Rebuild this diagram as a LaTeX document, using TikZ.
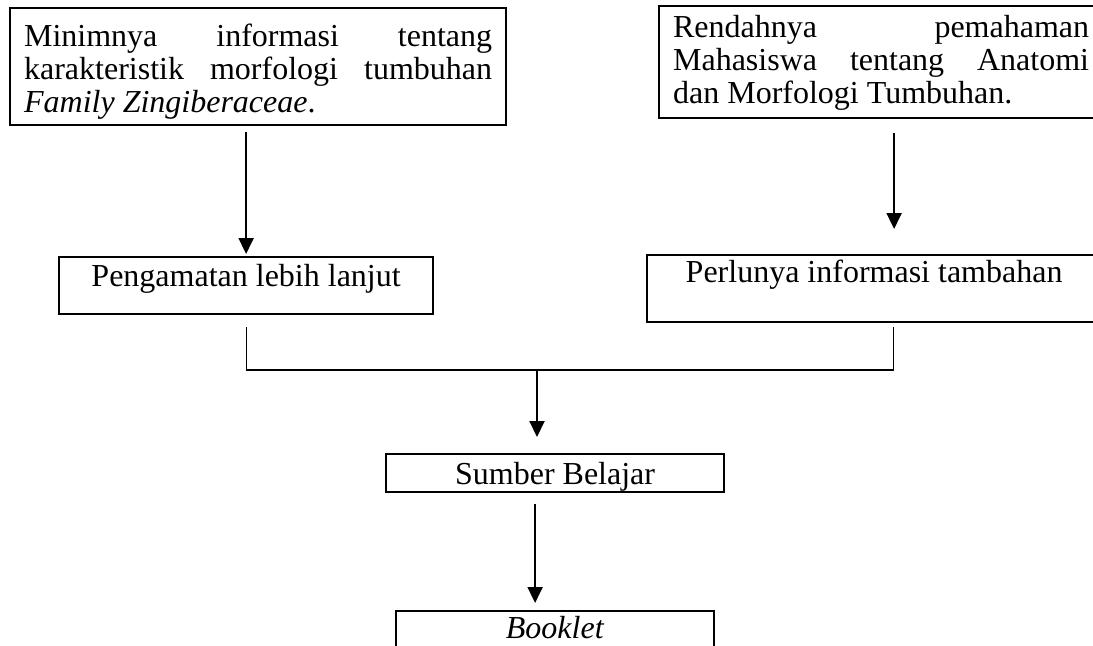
\documentclass[tikz,border=0pt]{standalone}
\usepackage{fontspec}
\setmainfont{Liberation Serif}
\usetikzlibrary{arrows.meta}
\tikzset{box/.style = {draw, line width=1.1pt, inner ysep=0pt, inner xsep=7pt,
    font=\fontsize{16pt}{16.5pt}\selectfont}}
\tikzset{flow/.style = {line width=1pt, -{Triangle[length=8pt, width=7.5pt]}}}
\tikzset{link/.style = {line width=0.6pt}}

\begin{document}
\begin{tikzpicture}[x=0.5pt, y=-0.5pt]
    \useasboundingbox (0, 0) rectangle (1093, 645);

    \node [box, anchor=north west, text width=234pt, align=justify,
      text height=19pt, text depth=39.5pt] (info) at (9, 7)
      {Minimnya informasi tentang\linebreak karakteristik morfologi tumbuhan\linebreak
       \textit{Family Zingiberaceae}.};
    \node [box, anchor=north west, text width=208pt, align=justify,
      text height=15.5pt, text depth=40.5pt] (need) at (658, 5)
      {Rendahnya pemahaman\linebreak Mahasiswa tentang Anatomi\linebreak
       dan Morfologi Tumbuhan.};

    \node [box, anchor=north west, minimum width=187pt,
      text height=14.5pt, text depth=14pt] (obs) at (58, 256) {Pengamatan lebih lanjut};
    \node [box, anchor=north west, minimum width=227pt,
      text height=13.5pt, text depth=20pt] (extra) at (646, 254) {Perlunya informasi tambahan};

    \node [box, anchor=north west, minimum width=169pt,
      text height=15pt, text depth=4pt] (src) at (385, 453) {Sumber Belajar};
    \node [box, anchor=north west, minimum width=159pt,
      text height=13.5pt, text depth=10pt] (book) at (395, 610) {\textit{Booklet}};

    \draw [flow, shorten <=3pt, shorten >=1pt] (info.south -| obs.north) -- (obs.north);
    \draw [flow, shorten <=7pt, shorten >=12.5pt]
      ([xshift=6.5pt]need.south) -- ([xshift=6.5pt]need.south |- extra.north);

    \coordinate (join) at (537, 370);
    \draw [link, shorten <=6pt] (obs.south) |- (join);
    \draw [link, shorten <=2pt] ([xshift=9.5pt]extra.south) |- (join);
    \draw [flow, shorten >=8pt] (join) -- (join |- src.north);

    \draw [flow, shorten <=5.5pt, shorten >=3.5pt]
      ([xshift=-10pt]src.south) -- ([xshift=-10pt]book.north);
  \end{tikzpicture}
\end{document}
